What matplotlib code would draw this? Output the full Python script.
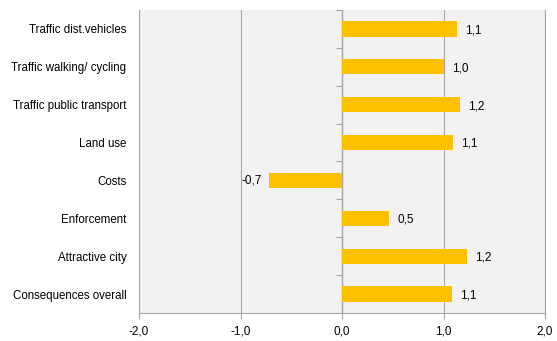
import numpy as np
import matplotlib
matplotlib.use("Agg")
import matplotlib.pyplot as plt
from matplotlib.ticker import FuncFormatter

plt.rcParams['font.family'] = ['Liberation Sans', 'DejaVu Sans']

categories = ["Traffic dist.vehicles", "Traffic walking/ cycling", "Traffic public transport",
              "Land use", "Costs", "Enforcement", "Attractive city", "Consequences overall"]
values = [1.13, 1.0, 1.16, 1.09, -0.72, 0.46, 1.23, 1.08]
labels = ["1,1", "1,0", "1,2", "1,1", "-0,7", "0,5", "1,2", "1,1"]

bar_color = "#FFC000"
grid_color = "#A6A6A6"

fig = plt.figure(figsize=(5.57, 3.41), dpi=100)
ax = fig.add_axes([0.2496, 0.0821, 0.7289, 0.8886])
ax.set_facecolor("#F2F2F2")

y = np.arange(len(categories))
bars = ax.barh(y, values, height=0.4, color=bar_color, zorder=3)

for b, v, lab in zip(bars, values, labels):
    yc = b.get_y() + b.get_height() / 2
    if v >= 0:
        ax.annotate(lab, (v, yc), xytext=(6, -1), textcoords="offset points",
                    ha="left", va="center", fontsize=8.5)
    else:
        ax.annotate(lab, (v, yc), xytext=(-5, 0), textcoords="offset points",
                    ha="right", va="center", fontsize=8.5)

ax.set_xlim(-2, 2)
ax.set_ylim(len(categories) - 0.5, -0.5)
ax.set_xticks([-2, -1, 0, 1, 2])
ax.xaxis.set_major_formatter(FuncFormatter(lambda v, p: f"{v:.1f}".replace(".", ",")))
ax.set_yticks(y)
ax.set_yticklabels(categories)
ax.tick_params(axis="y", length=0, pad=9, labelsize=8.3)
ax.tick_params(axis="x", length=4, color=grid_color, pad=5, labelsize=8.5)
ax.grid(axis="x", color=grid_color, linewidth=0.8, zorder=1)

for s in ["left", "bottom", "right"]:
    ax.spines[s].set_color(grid_color)
    ax.spines[s].set_linewidth(0.8)
ax.spines["top"].set_visible(False)

# category axis at x = 0 with separator ticks
sec = ax.secondary_yaxis(0.5)
sec.set_yticks(np.arange(len(categories) + 1) - 0.5)
sec.set_yticklabels([])
sec.tick_params(length=4, color=grid_color, direction="in")
sec.spines["left"].set_color(grid_color)
sec.spines["left"].set_linewidth(0.8)

fig.savefig("out.png", dpi=100)
